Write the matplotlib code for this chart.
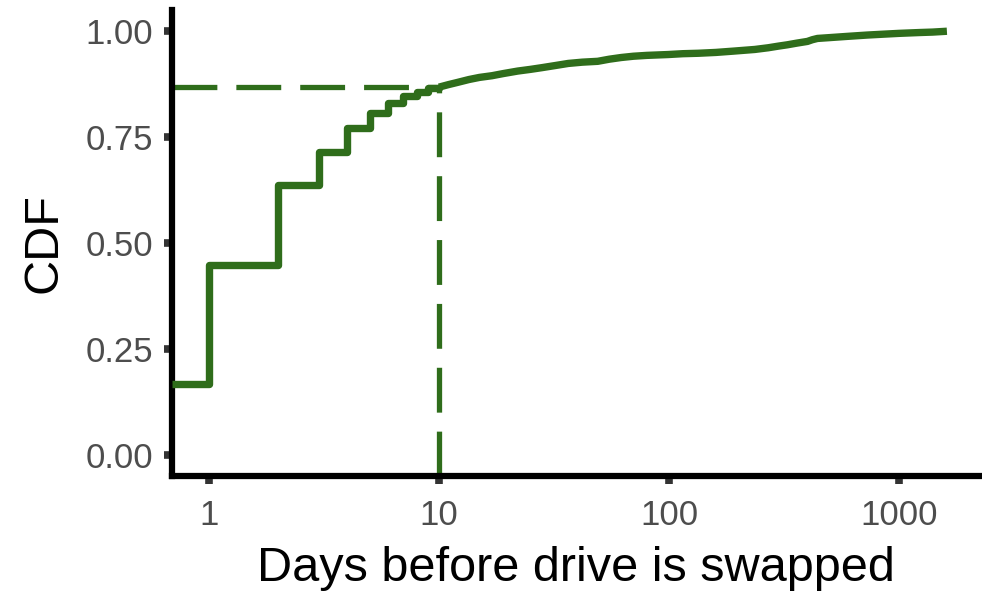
import matplotlib
matplotlib.use("Agg")
import matplotlib.pyplot as plt

# --- DATA ---
# share of drives swapped on day 0 (log scale -> -inf, so it starts at the left edge)
cdf_day0 = 0.167
swap_days = [1, 2, 3, 4, 5, 6, 7, 8, 9, 10, 11, 12, 13.5, 15, 17, 19, 22, 25, 28,
             32, 36.5, 42, 49, 55, 62, 70, 80, 99, 115, 134, 160, 190, 236, 270,
             300, 327, 360, 400, 420, 442, 500, 600, 727, 850, 1000, 1233, 1400, 1615]
cdf = [0.448, 0.637, 0.715, 0.771, 0.806, 0.830, 0.847, 0.857, 0.865, 0.868, 0.874,
       0.879, 0.886, 0.891, 0.895, 0.900, 0.906, 0.910, 0.914, 0.919, 0.924, 0.927,
       0.929, 0.934, 0.938, 0.941, 0.943, 0.945, 0.947, 0.948, 0.950, 0.953, 0.957,
       0.961, 0.965, 0.968, 0.972, 0.976, 0.980, 0.983, 0.985, 0.988, 0.991, 0.993,
       0.995, 0.997, 0.998, 1.0]
marker_day = 10
marker_cdf = 0.868

x_ticks = [1, 10, 100, 1000]
x_tick_labels = ["1", "10", "100", "1000"]
y_ticks = [0.0, 0.25, 0.5, 0.75, 1.0]
y_tick_labels = ["0.00", "0.25", "0.50", "0.75", "1.00"]

GREEN = "#2f6d1b"
plt.rcParams['font.family'] = ['Liberation Sans', 'DejaVu Sans']

fig = plt.figure(figsize=(9.82, 5.92), dpi=100)
ax = fig.add_axes([0.175, 0.196, 0.823, 0.787])
ax.set_xscale('log')
ax.set_xlim(0.69, 2250)
ax.set_ylim(-0.05, 1.05)

x0 = ax.get_xlim()[0]
# coarse steps for the first days, the dense tail looks like a smooth curve
n_steps = swap_days.index(marker_day) + 1
xs = [x0] + swap_days[:n_steps]
ys = [cdf_day0] + cdf[:n_steps]
ax.plot(xs, ys, drawstyle='steps-post', color=GREEN,
        linewidth=5.3, solid_joinstyle='round', solid_capstyle='butt', zorder=3)
ax.plot(swap_days[n_steps - 1:], cdf[n_steps - 1:], color=GREEN,
        linewidth=5.3, solid_joinstyle='round', solid_capstyle='butt', zorder=3)

# dashed guide lines
y0 = ax.get_ylim()[0]
ax.plot([x0, marker_day], [marker_cdf, marker_cdf], color=GREEN, linewidth=3.8,
        linestyle=(0, (8.5, 3.6)), zorder=2)
ax.plot([marker_day, marker_day], [y0, marker_cdf], color=GREEN, linewidth=3.8,
        linestyle=(0, (8.5, 3.6)), zorder=2)

ax.set_xticks(x_ticks)
ax.set_xticklabels(x_tick_labels)
ax.minorticks_off()
ax.set_yticks(y_ticks)
ax.set_yticklabels(y_tick_labels)

for side in ['top', 'right']:
    ax.spines[side].set_visible(False)
for side in ['left', 'bottom']:
    ax.spines[side].set_linewidth(4.5)
    ax.spines[side].set_color('black')

ax.tick_params(axis='both', length=5.5, width=5.5, color='#333333',
               labelsize=25, labelcolor='#4d4d4d', pad=8)
ax.tick_params(axis='x', pad=11)

ax.set_xlabel("Days before drive is swapped", fontsize=35, labelpad=10)
ax.set_ylabel("CDF", fontsize=35, labelpad=14)

fig.savefig("out.png", dpi=100)
